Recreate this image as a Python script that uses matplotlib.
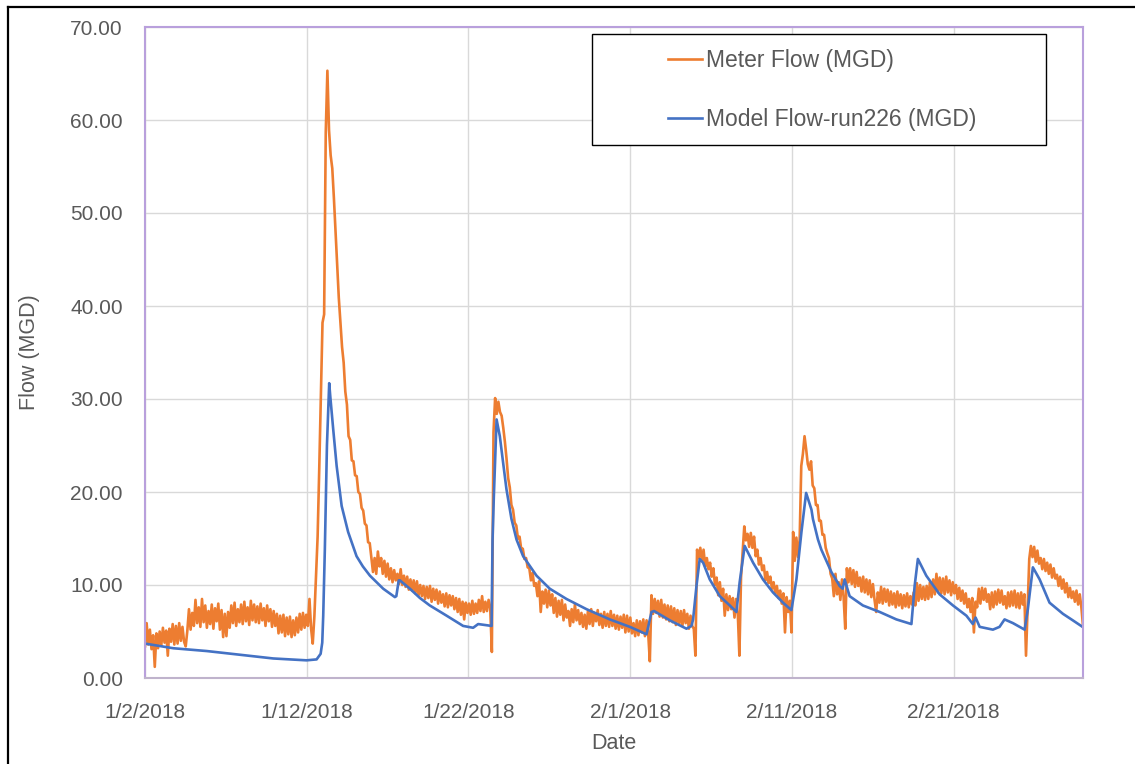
import numpy as np
import pandas as pd
import matplotlib
matplotlib.use("Agg")
import matplotlib.pyplot as plt
from matplotlib.lines import Line2D
from matplotlib.patches import Rectangle

start = pd.Timestamp("2018-01-02")
end = pd.Timestamp("2018-03-01")

# meter readings (MGD), one value every 145 minutes starting 1/2/2018 00:00
meter_flow = [
    3.4, 5.9, 3.6, 5.2, 3.1, 4.6, 1.2, 4.8, 3.2, 5.0,
    3.5, 5.4, 3.8, 5.1, 2.4, 5.3, 3.9, 5.8, 3.6, 5.6,
    3.7, 5.9, 4.0, 5.5, 3.9, 3.4, 5.1, 7.4, 5.2, 7.0,
    5.6, 8.4, 5.9, 7.6, 5.5, 8.5, 6.0, 7.8, 5.4, 7.2,
    5.8, 7.9, 5.3, 7.5, 6.1, 8.0, 5.2, 7.3, 4.4, 6.9,
    4.5, 7.1, 5.4, 7.8, 5.9, 8.1, 5.6, 7.4, 6.0, 7.9,
    5.8, 8.2, 6.1, 7.6, 5.7, 8.3, 6.2, 7.9, 6.0, 7.7,
    5.9, 8.0, 6.2, 7.5, 5.6, 7.8, 6.1, 7.4, 5.5, 7.2,
    5.6, 6.9, 4.8, 6.7, 4.9, 6.8, 4.5, 6.5, 4.7, 6.6,
    4.4, 6.2, 4.6, 6.5, 4.9, 6.9, 5.2, 7.0, 5.4, 6.8,
    5.6, 8.5, 5.3, 3.7, 6.6, 10.8, 15.2, 22.5, 30.4, 38.2,
    39.1, 58.7, 65.3, 58.9, 56.2, 54.8, 51.6, 48.1, 44.6, 40.9,
    38.3, 35.6, 33.9, 30.8, 29.4, 26.0, 25.6, 23.4, 23.3, 21.8,
    21.7, 20.0, 19.8, 18.3, 18.0, 16.6, 16.4, 14.6, 14.5, 12.9,
    11.4, 12.9, 11.2, 13.6, 12.0, 12.9, 11.2, 12.6, 10.9, 12.3,
    10.6, 11.8, 10.3, 11.6, 10.5, 11.2, 10.1, 11.7, 10.0, 11.0,
    9.8, 10.9, 9.5, 10.6, 9.4, 10.5, 9.1, 10.4, 8.9, 10.0,
    8.8, 9.9, 8.5, 9.8, 8.6, 9.9, 8.2, 9.6, 8.4, 9.5,
    8.0, 9.3, 8.1, 9.0, 7.7, 9.1, 7.6, 8.9, 7.8, 8.8,
    7.4, 8.6, 7.1, 8.5, 6.8, 8.2, 6.3, 8.1, 7.0, 8.0,
    6.8, 8.3, 6.9, 8.0, 7.0, 8.4, 7.2, 8.8, 7.1, 8.2,
    7.2, 8.4, 7.5, 2.8, 26.4, 30.1, 28.4, 29.7, 28.6, 28.2,
    26.9, 25.4, 23.6, 21.5, 20.5, 18.6, 18.1, 16.7, 16.4, 15.0,
    15.2, 13.9, 13.9, 12.8, 12.9, 11.9, 11.8, 10.5, 11.3, 9.9,
    10.2, 8.8, 10.4, 7.1, 9.3, 8.0, 9.5, 7.6, 9.4, 7.8,
    9.0, 7.0, 8.6, 6.6, 8.3, 6.8, 8.4, 6.2, 7.9, 6.5,
    7.2, 5.6, 7.4, 6.0, 7.9, 6.2, 7.3, 5.8, 7.0, 5.5,
    6.8, 5.3, 7.2, 5.8, 7.4, 5.6, 7.0, 6.1, 7.3, 5.7,
    6.9, 5.4, 7.1, 5.6, 6.9, 5.5, 7.2, 5.6, 6.8, 5.3,
    6.7, 5.2, 6.6, 5.4, 6.8, 4.9, 6.7, 5.0, 6.5, 4.8,
    5.9, 4.5, 6.2, 4.6, 6.1, 4.9, 6.3, 4.5, 6.2, 4.8,
    1.8, 8.9, 6.9, 8.5, 7.0, 8.3, 6.6, 8.4, 6.5, 7.9,
    6.3, 7.8, 6.1, 7.7, 6.0, 7.5, 5.7, 7.3, 5.8, 7.2,
    5.6, 7.3, 5.9, 6.9, 5.3, 6.7, 5.6, 5.3, 2.4, 13.8,
    12.9, 14.0, 12.6, 13.8, 12.0, 12.9, 11.7, 12.4, 10.9, 11.8,
    10.0, 10.8, 8.9, 10.3, 8.3, 9.6, 6.7, 9.0, 7.3, 8.8,
    7.4, 8.6, 6.5, 8.5, 7.0, 2.4, 10.8, 13.5, 16.3, 14.8,
    15.5, 14.1, 15.6, 14.0, 15.2, 13.1, 13.8, 12.2, 12.9, 11.6,
    12.1, 10.5, 11.4, 10.2, 10.9, 9.6, 10.3, 9.1, 9.9, 8.6,
    9.4, 8.0, 9.1, 4.9, 8.7, 7.1, 8.3, 4.9, 15.7, 12.6,
    15.1, 13.0, 14.9, 22.8, 24.1, 26.0, 24.6, 23.0, 22.4, 23.3,
    20.7, 20.4, 18.6, 18.6, 16.9, 16.9, 15.4, 15.4, 14.0, 13.4,
    12.9, 11.2, 10.7, 8.8, 11.2, 9.0, 10.3, 8.4, 10.6, 8.7,
    5.3, 11.8, 10.3, 11.8, 10.1, 11.6, 9.8, 11.4, 9.9, 10.8,
    9.3, 10.9, 9.2, 10.6, 9.0, 10.5, 8.7, 10.1, 8.4, 7.1,
    9.2, 8.1, 9.8, 8.0, 9.6, 8.2, 9.5, 7.8, 9.3, 7.9,
    9.1, 7.6, 9.3, 7.8, 9.0, 7.5, 8.9, 7.7, 9.1, 7.6,
    8.8, 7.9, 9.2, 7.8, 10.2, 8.3, 10.0, 8.5, 9.8, 8.4,
    9.9, 8.5, 10.3, 8.7, 10.6, 9.0, 11.2, 9.2, 10.8, 9.1,
    10.7, 9.0, 10.9, 9.2, 10.5, 8.9, 10.3, 9.1, 10.0, 8.5,
    9.7, 8.3, 9.4, 8.0, 9.1, 7.6, 8.5, 7.1, 8.6, 4.9,
    8.2, 7.6, 9.6, 8.0, 9.7, 8.4, 9.6, 8.2, 9.0, 7.4,
    9.2, 7.6, 9.3, 7.9, 9.5, 8.1, 9.4, 7.9, 8.8, 7.5,
    9.2, 7.7, 9.3, 7.8, 9.4, 7.6, 9.1, 7.5, 9.2, 7.9,
    9.0, 2.4, 7.5, 12.8, 14.2, 13.0, 14.1, 12.5, 13.7, 12.3,
    12.9, 11.7, 12.8, 11.5, 12.4, 11.2, 12.2, 10.8, 11.8, 10.7,
    11.1, 9.9, 10.9, 9.6, 10.6, 9.2, 10.2, 8.7, 9.7, 8.6,
    9.3, 8.2, 9.4, 7.9, 9.0, 7.6, 5.6,
]
meter_time = pd.date_range(start, periods=len(meter_flow), freq="145min")

# model output (MGD) at days after 1/2/2018
model_days = [
    0.0, 1.75, 3.81, 5.87, 7.93, 9.99, 10.61, 10.86, 10.96, 11.02,
    11.12, 11.25, 11.39, 11.46, 11.64, 11.85, 12.16, 12.56, 13.08, 13.47,
    13.91, 14.73, 15.45, 15.54, 15.69, 15.76, 16.38, 17.0, 17.61, 18.65,
    19.67, 20.29, 20.6, 21.43, 21.49, 21.57, 21.74, 21.94, 22.14, 22.35,
    22.66, 22.97, 23.38, 24.21, 25.03, 26.06, 27.3, 28.74, 29.98, 31.01,
    31.32, 31.48, 32.45, 33.48, 33.79, 33.89, 34.1, 34.3, 34.51, 34.92,
    35.54, 36.16, 36.57, 36.77, 37.08, 37.6, 38.21, 38.83, 39.45, 39.97,
    40.28, 40.59, 40.88, 41.21, 41.3, 41.61, 41.82, 42.44, 42.95, 43.14,
    43.26, 43.57, 44.39, 45.43, 46.46, 47.39, 47.59, 47.79, 48.31, 49.13,
    49.96, 50.79, 51.19, 51.36, 51.61, 52.43, 52.84, 53.15, 53.67, 54.39,
    54.59, 54.9, 55.32, 55.93, 56.76, 57.37, 57.97,
]
model_flow = [
    3.7, 3.2, 2.9, 2.5, 2.1, 1.9, 2.0, 2.6, 3.8, 6.7,
    13.8, 25.0, 31.7, 30.2, 26.7, 22.8, 18.5, 15.7, 13.1, 12.0,
    11.0, 9.6, 8.7, 8.8, 10.5, 10.5, 9.6, 8.6, 7.8, 6.7,
    5.6, 5.4, 5.8, 5.6, 14.9, 19.5, 27.8, 26.0, 23.2, 20.3,
    17.1, 14.9, 13.1, 11.0, 9.6, 8.5, 7.4, 6.3, 5.5, 4.7,
    7.1, 7.2, 6.2, 5.3, 5.6, 6.3, 9.9, 12.8, 12.4, 10.6,
    8.8, 7.8, 7.1, 10.3, 14.2, 12.4, 10.6, 9.2, 8.1, 7.3,
    10.6, 15.7, 19.9, 18.1, 17.1, 14.9, 13.8, 11.4, 9.9, 9.6,
    10.6, 8.8, 7.8, 7.1, 6.3, 5.8, 9.9, 12.8, 11.0, 9.0,
    7.8, 6.7, 5.8, 6.5, 5.5, 5.2, 5.5, 6.3, 5.9, 5.2,
    7.4, 11.9, 10.6, 8.1, 6.9, 6.2, 5.5,
]
model_time = start + pd.to_timedelta(model_days, unit="D")

tick_dates = pd.to_datetime(["2018-01-02", "2018-01-12", "2018-01-22",
                             "2018-02-01", "2018-02-11", "2018-02-21"])
tick_labels = ["1/2/2018", "1/12/2018", "1/22/2018",
               "2/1/2018", "2/11/2018", "2/21/2018"]
y_ticks = [0, 10, 20, 30, 40, 50, 60, 70]

plt.rcParams["font.family"] = ["Liberation Sans", "DejaVu Sans"]
text_gray = "#595959"

fig = plt.figure(figsize=(11.35, 7.64), dpi=100)
ax = fig.add_axes([145 / 1135, 1 - 678 / 764, 938 / 1135, 651 / 764])

ax.plot(meter_time, meter_flow, color="#ED7D31", lw=1.9, label="Meter Flow (MGD)")
ax.plot(model_time, model_flow, color="#4472C4", lw=1.9, label="Model Flow-run226 (MGD)")

ax.set_xlim(start, end)
ax.set_ylim(0, 70)
ax.set_xticks(tick_dates)
ax.set_xticklabels(tick_labels)
ax.set_yticks(y_ticks)
ax.set_yticklabels(["%.2f" % v for v in y_ticks])
ax.tick_params(length=0, labelsize=15, colors=text_gray)
ax.tick_params(axis="x", pad=18)
ax.tick_params(axis="y", pad=16)

ax.grid(color="#D9D9D9", lw=1)
ax.set_axisbelow(True)
for side in ["left", "top", "right", "bottom"]:
    ax.spines[side].set_color("#B9A0DC")
    ax.spines[side].set_linewidth(1.5)
ax.spines["bottom"].set_color("#BFB3CC")

ax.set_xlabel("Date", fontsize=15.5, color=text_gray)
ax.set_ylabel("Flow (MGD)", fontsize=15.5, color=text_gray)
ax.xaxis.set_label_coords(0.5, -0.084)
ax.yaxis.set_label_coords(-0.112, 0.5)

# legend box with the entries sitting inside it
fig.add_artist(Rectangle((592 / 1135, 1 - 145 / 764), 454 / 1135, 111 / 764,
                         transform=fig.transFigure, facecolor="white",
                         edgecolor="black", lw=1, zorder=5))
handles, labels = ax.get_legend_handles_labels()
leg = fig.legend(handles, labels, loc="center left",
                 bbox_to_anchor=(657 / 1135, 1 - 90 / 764), frameon=False,
                 fontsize=16.5, borderpad=0, handlelength=1.45,
                 handletextpad=0.2, labelspacing=1.55)
leg.set_zorder(6)
for t in leg.get_texts():
    t.set_color(text_gray)

# outer frame
fig.add_artist(Line2D([8 / 1135, 8 / 1135], [0, 1 - 7 / 764],
                      transform=fig.transFigure, color="black", lw=1.6))
fig.add_artist(Line2D([8 / 1135, 1], [1 - 7 / 764, 1 - 7 / 764],
                      transform=fig.transFigure, color="black", lw=1.6))

fig.savefig("out.png", dpi=100)
